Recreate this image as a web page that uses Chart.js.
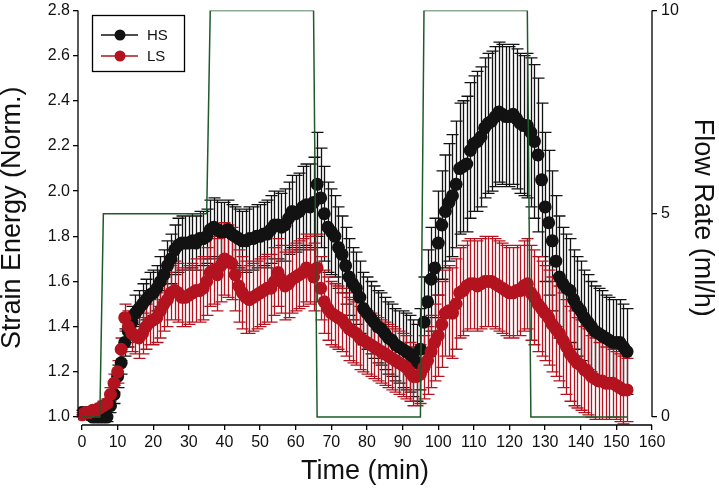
<!DOCTYPE html>
<html>
<head>
<meta charset="utf-8">
<script src="https://cdn.jsdelivr.net/npm/chart.js@4.4.1/dist/chart.umd.min.js"></script>
<style>
  html, body { margin: 0; padding: 0; background: #fff; }
  #wrap { width: 719px; height: 488px; }
</style>
</head>
<body>
<div id="wrap"><canvas id="chart" width="719" height="488"></canvas></div>
<script>
// sampling times (min)
const timeMin = [
  0,1,2,3,4,5,6,7,8,9,10,11,12,13,14,15,16,17,18,19,
  20,21,22,23,24,25,26,27,28,29,30,31,32,33,34,35,36,37,38,39,
  40,41,42,43,44,45,46,47,48,49,50,51,52,53,54,55,56,57,58,59,
  60,61,62,63,64,65,66,67,68,69,70,71,72,73,74,75,76,77,78,79,
  80,81,82,83,84,85,86,87,88,89,90,91,92,93,94,95,96,97,98,99,
  100,101,102,103,104,105,106,107,108,109,110,111,112,113,114,115,116,117,118,119,
  120,121,122,123,124,125,126,127,128,129,130,131,132,133,134,135,136,137,138,139,
  140,141,142,143,144,145,146,147,148,149,150,151,152,153
];

// HS: strain energy (normalised) and error
const hsMean = [
  1.02,1.02,1.01,1.00,1.00,1.00,1.00,1.00,1.05,1.10,1.18,1.24,1.33,1.38,1.42,1.46,1.48,1.50,1.52,1.54,
  1.55,1.57,1.60,1.63,1.67,1.70,1.74,1.76,1.77,1.77,1.77,1.78,1.77,1.79,1.79,1.80,1.83,1.84,1.83,1.82,
  1.82,1.83,1.81,1.80,1.79,1.78,1.78,1.79,1.79,1.80,1.80,1.81,1.81,1.83,1.85,1.85,1.84,1.85,1.88,1.91,
  1.90,1.91,1.93,1.94,1.93,1.95,2.03,1.97,1.90,1.84,1.82,1.80,1.75,1.72,1.67,1.62,1.59,1.57,1.53,1.48,
  1.46,1.44,1.42,1.40,1.39,1.37,1.35,1.34,1.32,1.31,1.30,1.29,1.28,1.26,1.24,1.30,1.42,1.51,1.61,1.66,
  1.77,1.85,1.91,1.95,1.98,2.03,2.10,2.11,2.12,2.18,2.21,2.22,2.24,2.28,2.30,2.31,2.33,2.35,2.34,2.33,
  2.33,2.34,2.32,2.30,2.29,2.29,2.26,2.22,2.16,2.05,1.93,1.86,1.78,1.69,1.62,1.59,1.57,1.56,1.52,1.49,
  1.47,1.44,1.42,1.40,1.38,1.37,1.36,1.35,1.34,1.33,1.33,1.33,1.31,1.29
];
const hsErr = [
  0.01,0.01,0.01,0.01,0.01,0.01,0.01,0.02,0.03,0.04,0.05,0.05,0.06,0.07,0.07,0.08,0.08,0.09,0.09,0.10,
  0.10,0.10,0.11,0.11,0.11,0.11,0.11,0.12,0.12,0.12,0.12,0.12,0.12,0.12,0.12,0.12,0.13,0.13,0.13,0.13,
  0.13,0.13,0.13,0.13,0.13,0.13,0.14,0.14,0.14,0.14,0.14,0.14,0.15,0.15,0.15,0.15,0.15,0.16,0.16,0.16,
  0.17,0.17,0.18,0.18,0.19,0.20,0.23,0.22,0.21,0.20,0.19,0.18,0.18,0.17,0.17,0.17,0.16,0.16,0.16,0.16,
  0.16,0.16,0.16,0.16,0.16,0.16,0.16,0.16,0.16,0.16,0.17,0.17,0.17,0.17,0.17,0.18,0.20,0.23,0.23,0.22,
  0.23,0.24,0.25,0.26,0.27,0.28,0.29,0.29,0.30,0.30,0.30,0.31,0.31,0.31,0.31,0.31,0.31,0.31,0.31,0.31,
  0.31,0.31,0.31,0.31,0.31,0.32,0.33,0.34,0.34,0.34,0.33,0.32,0.31,0.29,0.27,0.25,0.24,0.23,0.22,0.22,
  0.22,0.21,0.21,0.20,0.20,0.20,0.20,0.19,0.19,0.19,0.19,0.19,0.19,0.19
];

// LS: strain energy (normalised) and error
const lsMean = [
  1.01,1.02,1.02,1.03,1.03,1.04,1.05,1.06,1.10,1.15,1.20,1.30,1.44,1.40,1.37,1.36,1.35,1.37,1.40,1.42,
  1.43,1.44,1.47,1.50,1.52,1.55,1.56,1.55,1.53,1.53,1.54,1.55,1.56,1.56,1.57,1.60,1.64,1.65,1.63,1.67,
  1.70,1.69,1.68,1.63,1.58,1.55,1.53,1.52,1.53,1.54,1.55,1.56,1.57,1.57,1.60,1.64,1.61,1.58,1.59,1.61,
  1.62,1.63,1.64,1.66,1.65,1.62,1.66,1.57,1.51,1.48,1.46,1.45,1.44,1.43,1.41,1.39,1.38,1.37,1.35,1.34,
  1.33,1.32,1.31,1.30,1.29,1.28,1.27,1.26,1.25,1.24,1.23,1.22,1.20,1.18,1.18,1.19,1.22,1.25,1.29,1.33,
  1.36,1.41,1.46,1.47,1.46,1.50,1.55,1.56,1.58,1.59,1.59,1.58,1.59,1.60,1.60,1.60,1.59,1.58,1.57,1.56,
  1.55,1.55,1.56,1.56,1.58,1.59,1.55,1.53,1.50,1.48,1.46,1.44,1.41,1.39,1.37,1.34,1.31,1.28,1.26,1.24,
  1.23,1.21,1.20,1.18,1.17,1.16,1.16,1.15,1.15,1.15,1.14,1.13,1.12,1.12
];
const lsErr = [
  0.01,0.01,0.01,0.01,0.01,0.02,0.02,0.02,0.03,0.04,0.05,0.05,0.06,0.07,0.08,0.08,0.09,0.09,0.10,0.10,
  0.11,0.11,0.12,0.12,0.12,0.12,0.13,0.13,0.13,0.13,0.13,0.13,0.14,0.14,0.14,0.15,0.15,0.15,0.16,0.16,
  0.16,0.16,0.16,0.16,0.16,0.16,0.16,0.15,0.15,0.15,0.15,0.15,0.15,0.15,0.15,0.15,0.15,0.15,0.15,0.15,
  0.15,0.15,0.15,0.15,0.15,0.15,0.15,0.14,0.14,0.14,0.14,0.14,0.14,0.14,0.14,0.14,0.14,0.14,0.14,0.14,
  0.14,0.14,0.14,0.14,0.14,0.14,0.14,0.14,0.14,0.14,0.14,0.14,0.13,0.13,0.13,0.13,0.14,0.15,0.16,0.17,
  0.18,0.19,0.19,0.20,0.20,0.20,0.20,0.20,0.20,0.20,0.20,0.20,0.20,0.20,0.20,0.20,0.20,0.20,0.20,0.20,
  0.20,0.20,0.20,0.20,0.20,0.20,0.21,0.21,0.21,0.21,0.21,0.21,0.21,0.21,0.21,0.21,0.21,0.21,0.21,0.20,
  0.20,0.19,0.19,0.18,0.18,0.17,0.17,0.16,0.16,0.15,0.15,0.15,0.15,0.14
];

// flow protocol (ml/h)
const flowTime = [0, 5, 6, 35, 36, 65, 66, 95, 96, 125, 126, 153];
const flowRate = [0, 0, 5, 5, 10, 10, 0, 0, 10, 10, 0, 0];

// ticks
const timeTicks = [0, 10, 20, 30, 40, 50, 60, 70, 80, 90, 100, 110, 120, 130, 140, 150, 160];
const strainTicks = [1.0, 1.2, 1.4, 1.6, 1.8, 2.0, 2.2, 2.4, 2.6, 2.8];
const flowTicks = [0, 5, 10];

const HS_COLOR = '#121212';
const LS_COLOR = '#b3131f';
const FLOW_COLOR = '#1e5a2a';
const FONT = '"Liberation Sans", Arial, sans-serif';

const toXY = (xs, ys) => xs.map((x, i) => ({ x: x, y: ys[i] }));

// error bars for the two strain series, drawn under the markers
const errorBars = {
  id: 'errorBars',
  beforeDatasetsDraw(chart) {
    const ctx = chart.ctx;
    const xs = chart.scales.x, ys = chart.scales.y;
    [[hsMean, hsErr, HS_COLOR], [lsMean, lsErr, LS_COLOR]].forEach(([m, e, c]) => {
      ctx.save();
      ctx.strokeStyle = c;
      ctx.lineWidth = 1.3;
      ctx.beginPath();
      timeMin.forEach((t, i) => {
        const px = Math.round(xs.getPixelForValue(t)) + 0.5;
        const top = ys.getPixelForValue(m[i] + e[i]);
        const bot = ys.getPixelForValue(m[i] - e[i]);
        ctx.moveTo(px, top); ctx.lineTo(px, bot);
        ctx.moveTo(px - 6, top); ctx.lineTo(px + 6, top);
        ctx.moveTo(px - 6, bot); ctx.lineTo(px + 6, bot);
      });
      ctx.stroke();
      ctx.restore();
    });
  }
};

// separated axis lines + boxed legend
const frame = {
  id: 'frame',
  afterDraw(chart) {
    const ctx = chart.ctx;
    const xs = chart.scales.x, ys = chart.scales.y, y2 = chart.scales.y2;
    ctx.save();
    ctx.strokeStyle = '#000';
    ctx.lineWidth = 1.3;
    ctx.beginPath();
    // left axis
    ctx.moveTo(xs.left, ys.getPixelForValue(2.8));
    ctx.lineTo(xs.left, ys.getPixelForValue(1.0));
    // right axis
    ctx.moveTo(xs.right, y2.getPixelForValue(10));
    ctx.lineTo(xs.right, y2.getPixelForValue(0));
    // bottom axis
    ctx.moveTo(xs.getPixelForValue(0), ys.bottom);
    ctx.lineTo(xs.getPixelForValue(160), ys.bottom);
    ctx.stroke();

    // legend
    const bx = 92.5, by = 15.5, bw = 92, bh = 56;
    ctx.lineWidth = 1.3;
    ctx.strokeRect(bx, by, bw, bh);
    const items = [['HS', HS_COLOR, 35], ['LS', LS_COLOR, 56]];
    items.forEach(([label, col, yy]) => {
      ctx.strokeStyle = col;
      ctx.lineWidth = 1.5;
      ctx.beginPath();
      ctx.moveTo(101, yy); ctx.lineTo(138, yy);
      ctx.stroke();
      ctx.fillStyle = col;
      ctx.beginPath();
      ctx.arc(120, yy, 5.5, 0, Math.PI * 2);
      ctx.fill();
      ctx.fillStyle = '#111';
      ctx.font = '15px ' + FONT;
      ctx.textBaseline = 'middle';
      ctx.textAlign = 'left';
      ctx.fillText(label, 147, yy + 1);
    });
    ctx.restore();
  }
};

const tickFont = { family: FONT, size: 16, lineHeight: 0.8 };
const titleFont = { family: FONT, size: 27 };
const tickGrid = { display: true, drawOnChartArea: false, drawTicks: true, tickLength: 5, color: '#000', lineWidth: 1.3 };

new Chart(document.getElementById('chart'), {
  type: 'scatter',
  data: {
    datasets: [
      {
        label: 'Flow',
        data: toXY(flowTime, flowRate),
        yAxisID: 'y2',
        showLine: true,
        borderColor: FLOW_COLOR,
        borderWidth: 1.5,
        pointRadius: 0,
        tension: 0,
        order: 0
      },
      {
        label: 'LS',
        data: toXY(timeMin, lsMean),
        yAxisID: 'y',
        backgroundColor: LS_COLOR,
        borderColor: LS_COLOR,
        borderWidth: 0,
        pointRadius: 6.5,
        order: 1
      },
      {
        label: 'HS',
        data: toXY(timeMin, hsMean),
        yAxisID: 'y',
        backgroundColor: HS_COLOR,
        borderColor: HS_COLOR,
        borderWidth: 0,
        pointRadius: 6.5,
        order: 2
      }
    ]
  },
  options: {
    responsive: false,
    animation: false,
    devicePixelRatio: 1,
    layout: { padding: { top: 8, left: 0, right: 0, bottom: 0 } },
    plugins: { legend: { display: false }, tooltip: { enabled: false } },
    scales: {
      x: {
        type: 'linear',
        min: -1.12,
        max: 160,
        afterBuildTicks: s => { s.ticks = timeTicks.map(v => ({ value: v })); },
        afterFit: s => { s.height = 63; },
        border: { display: false },
        grid: tickGrid,
        ticks: { font: { family: FONT, size: 16 }, color: '#111', padding: 3, maxRotation: 0, autoSkip: false },
        title: { display: true, text: 'Time (min)', font: titleFont, color: '#111', padding: 0 }
      },
      y: {
        type: 'linear',
        position: 'left',
        min: 0.9648,
        max: 2.8,
        afterBuildTicks: s => { s.ticks = strainTicks.map(v => ({ value: v })); },
        afterFit: s => { s.width = 78; },
        border: { display: false },
        grid: tickGrid,
        ticks: { font: tickFont, color: '#111', padding: 3, callback: v => v.toFixed(1) },
        title: { display: true, text: 'Strain Energy (Norm.)', font: { family: FONT, size: 27, lineHeight: 0.9 }, color: '#111', padding: 0 }
      },
      y2: {
        type: 'linear',
        position: 'right',
        min: -0.1956,
        max: 10,
        afterBuildTicks: s => { s.ticks = flowTicks.map(v => ({ value: v })); },
        afterFit: s => { s.width = 67; },
        border: { display: false },
        grid: tickGrid,
        ticks: { font: tickFont, color: '#111', padding: 4 },
        title: { display: true, text: 'Flow Rate (ml/h)', font: titleFont, color: '#111', padding: 0 }
      }
    }
  },
  plugins: [errorBars, frame]
});
</script>
</body>
</html>
